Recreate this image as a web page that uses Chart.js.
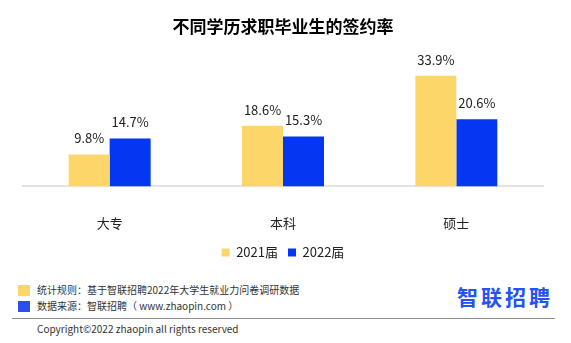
<!DOCTYPE html>
<html>
<head>
<meta charset="utf-8">
<script src="https://cdn.jsdelivr.net/npm/chart.js@4"></script>
<style>
  body { margin: 0; background: #fff; font-family: "Noto Sans CJK SC", sans-serif; }
  #wrap { position: relative; width: 571px; height: 343px; overflow: hidden; }
  #chartBox { position: absolute; left: 0; top: 0; width: 571px; height: 270px; }
  .note { position: absolute; left: 37px; font-size: 10px; color: #333; line-height: 14px; white-space: nowrap; }
  .sq { position: absolute; left: 18px; width: 12px; height: 11px; }
  #rule { position: absolute; left: 12px; top: 318px; width: 543px; height: 1px; background: #8c8c8c; }
  #logo { position: absolute; left: 457px; top: 283px; font-size: 21px; font-weight: bold; letter-spacing: 3px; color: #2452f4; line-height: 26px; white-space: nowrap; }
</style>
</head>
<body>
<div id="wrap">
  <div id="chartBox"><canvas id="grafico"></canvas></div>
  <div class="sq" style="top:285px;background:#fdd66a"></div>
  <div class="note" style="top:283px">统计规则：基于智联招聘2022年大学生就业力问卷调研数据</div>
  <div class="sq" style="top:301px;background:#2a4ff0"></div>
  <div class="note" style="top:299px">数据来源：智联招聘（ www.zhaopin.com ）</div>
  <div id="logo">智联招聘</div>
  <div id="rule"></div>
  <div class="note" style="top:322px">Copyright©2022 zhaopin all rights reserved</div>
</div>
<script>
// Dados do gráfico
const categorias = ["大专", "本科", "硕士"];
const series = ["2021届", "2022届"];
const valores2021 = [9.8, 18.6, 33.9];
const valores2022 = [14.7, 15.3, 20.6];

const fonte = "'Noto Sans CJK SC', sans-serif";

// Rótulos de valor acima das barras
const rotulos = {
    id: 'rotulos',
    afterDatasetsDraw(chart) {
        const ctx = chart.ctx;
        ctx.save();
        ctx.font = "13px " + fonte;
        ctx.fillStyle = '#222';
        ctx.textAlign = 'center';
        ctx.textBaseline = 'middle';
        chart.data.datasets.forEach(function (ds, i) {
            chart.getDatasetMeta(i).data.forEach(function (bar, j) {
                ctx.fillText(ds.data[j].toFixed(1) + '%', bar.x, bar.y - 16);
            });
        });
        ctx.restore();
    }
};

document.addEventListener("DOMContentLoaded", function () {
    const ctx = document.getElementById('grafico').getContext('2d');
    new Chart(ctx, {
        type: 'bar',
        data: {
            labels: categorias,
            datasets: [{
                label: series[0],
                data: valores2021,
                backgroundColor: '#fdd66a'
            }, {
                label: series[1],
                data: valores2022,
                backgroundColor: '#0437f2'
            }]
        },
        options: {
            responsive: true,
            maintainAspectRatio: false,
            animation: false,
            layout: { padding: { left: 23, right: 28, top: 0, bottom: 1 } },
            datasets: { bar: { categoryPercentage: 0.473, barPercentage: 1 } },
            scales: {
                x: {
                    grid: { display: false, tickLength: 24 },
                    border: { display: true, color: '#e3e3e3', width: 2 },
                    ticks: { color: '#222', padding: 5, font: { family: fonte, size: 13 } }
                },
                y: { display: false, min: 0, max: 42 }
            },
            plugins: {
                title: {
                    display: true,
                    text: '不同学历求职毕业生的签约率',
                    color: '#000',
                    font: { family: fonte, size: 17, weight: 'bold' },
                    padding: { top: 16, bottom: 13 }
                },
                legend: {
                    position: 'bottom',
                    labels: {
                        boxWidth: 8, boxHeight: 8, padding: 10,
                        color: '#222',
                        font: { family: fonte, size: 13 }
                    }
                },
                tooltip: { enabled: false }
            }
        },
        plugins: [rotulos]
    });
});
</script>
</body>
</html>
